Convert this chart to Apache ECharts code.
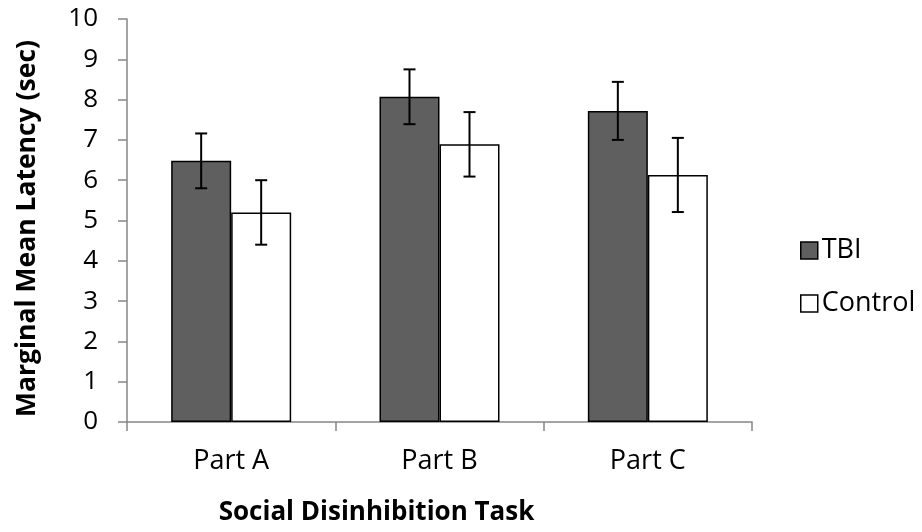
<!DOCTYPE html>
<html>
<head>
<meta charset="utf-8">
<script src="https://cdn.jsdelivr.net/npm/echarts@6/dist/echarts.min.js"></script>
<style>html,body{margin:0;padding:0;background:#fff}#c{width:922px;height:532px}</style>
</head>
<body>
<div id="c"></div>
<script>
const categories = ['Part A', 'Part B', 'Part C'];
const tbiMeans = [6.48, 8.07, 7.72];
const tbiErr = [0.68, 0.68, 0.72];
const controlMeans = [5.20, 6.89, 6.13];
const controlErr = [0.80, 0.80, 0.92];
const yMin = 0, yMax = 10, yStep = 1;

const FONT = '"Open Sans", Lato, sans-serif';
const BAR_FRAC = 0.288;

function errSeries(name, means, errs, side) {
  return {
    type: 'custom',
    name: name + ' err',
    silent: true,
    z: 10,
    data: means.map((m, i) => [i, m - errs[i], m + errs[i]]),
    renderItem: function (params, api) {
      const band = api.size([1, 0])[0];
      const off = side * band * BAR_FRAC / 2;
      const lo = api.coord([api.value(0), api.value(1)]);
      const hi = api.coord([api.value(0), api.value(2)]);
      const x = lo[0] + off;
      const cap = 6;
      const st = { stroke: '#000', lineWidth: 2 };
      return {
        type: 'group',
        children: [
          { type: 'line', shape: { x1: x, y1: hi[1], x2: x, y2: lo[1] }, style: st },
          { type: 'line', shape: { x1: x - cap, y1: hi[1], x2: x + cap, y2: hi[1] }, style: st },
          { type: 'line', shape: { x1: x - cap, y1: lo[1], x2: x + cap, y2: lo[1] }, style: st }
        ]
      };
    }
  };
}

const chart = echarts.init(document.getElementById('c'), null, { renderer: 'canvas' });
chart.setOption({
  animation: false,
  backgroundColor: '#fff',
  textStyle: { fontFamily: FONT },
  grid: { left: 127, right: 170, top: 19, bottom: 110, containLabel: false },
  legend: {
    orient: 'vertical',
    left: 795,
    top: 232,
    itemGap: 26,
    itemWidth: 17,
    itemHeight: 17,
    icon: 'rect',
    textStyle: { fontFamily: FONT, fontSize: 27, color: '#000', padding: [0, 0, 0, -1] },
    data: [
      { name: 'TBI', itemStyle: { color: '#5f5f5f', borderColor: '#000', borderWidth: 1.5 } },
      { name: 'Control', itemStyle: { color: '#fff', borderColor: '#000', borderWidth: 1.5 } }
    ]
  },
  xAxis: {
    type: 'category',
    data: categories,
    name: 'Social Disinhibition Task',
    nameLocation: 'middle',
    nameGap: 78,
    nameTextStyle: { fontFamily: FONT, fontSize: 26, fontWeight: 'bold', color: '#000', padding: [0, 126, 0, 0] },
    axisLine: { lineStyle: { color: '#868686', width: 1.5 } },
    axisTick: { show: true, length: 9, lineStyle: { color: '#868686', width: 1.5 } },
    axisLabel: { fontFamily: FONT, fontSize: 27, color: '#000', margin: 26 },
    splitLine: { show: false }
  },
  yAxis: {
    type: 'value',
    min: yMin, max: yMax, interval: yStep,
    name: 'Marginal Mean Latency (sec)',
    nameLocation: 'middle',
    nameGap: 86,
    nameTextStyle: { fontFamily: FONT, fontSize: 26.5, fontWeight: 'bold', color: '#000', padding: [0, 16, 0, 0] },
    axisLine: { show: true, lineStyle: { color: '#868686', width: 1.5 } },
    axisTick: { show: true, length: 9, lineStyle: { color: '#868686', width: 1.5 } },
    axisLabel: { fontFamily: FONT, fontSize: 26, color: '#000', margin: 29 },
    splitLine: { show: false }
  },
  series: [
    {
      name: 'TBI', type: 'bar', data: tbiMeans,
      barWidth: (BAR_FRAC * 100) + '%', barGap: '0%',
      itemStyle: { color: '#5f5f5f', borderColor: '#000', borderWidth: 1.5 }
    },
    {
      name: 'Control', type: 'bar', data: controlMeans,
      barWidth: (BAR_FRAC * 100) + '%', barGap: '0%',
      itemStyle: { color: '#fff', borderColor: '#000', borderWidth: 1.5 }
    },
    errSeries('TBI', tbiMeans, tbiErr, -1),
    errSeries('Control', controlMeans, controlErr, 1)
  ]
});
</script>
</body>
</html>
